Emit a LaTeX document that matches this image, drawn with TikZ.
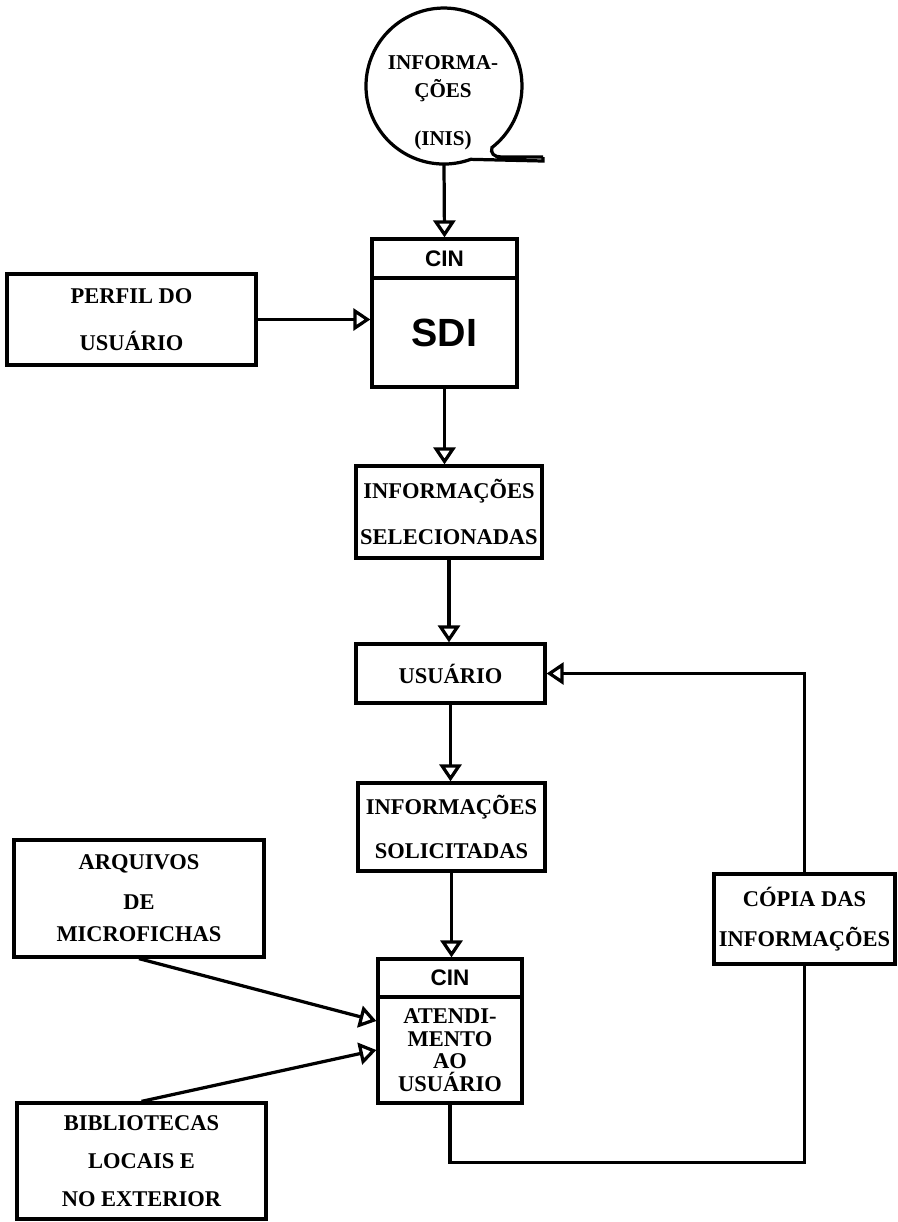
\documentclass[tikz,border=0pt]{standalone}
\usepackage{fontspec}
\setmainfont{Liberation Serif}
\newfontfamily\sansb{Liberation Sans}
\usetikzlibrary{arrows.meta}

\tikzset{
  caixa/.style={draw, line width=2.3pt, align=center, inner sep=0pt, font=\bfseries\fontsize{16}{#1}\selectfont},
  caixa/.default=33,
  cabeca/.style={draw, line width=2.3pt, inner sep=0pt, font=\sansb\bfseries\fontsize{16}{19}\selectfont},
  seta/.style={line width=2.3pt, -{Triangle[open, length=0.425cm, width=0.55cm]}},
  linha/.style={line width=2.3pt},
}

\begin{document}
\begin{tikzpicture}[x=0.025cm, y=0.025cm]
  \useasboundingbox (0,0) rectangle (897,-1222);
  \node[circle, minimum size=3.9cm, inner sep=0pt] (fita) at (444,-86) {};
  \draw[linha] (543,-157) -- (501,-157) .. controls (494,-157) and (490,-153) .. (492,-147.5)
    arc[start angle=-52, end angle=290, radius=78] -- (543,-161) -- (543,-157);
  \node[align=center, font=\bfseries\fontsize{15}{20}\selectfont] (inis) at (443,-103) {INFORMA-\\ÇÕES\\[14pt](INIS)};
  \node[cabeca, minimum width=3.625cm, minimum height=0.975cm] (cin1) at (444.5,-258.5) {CIN};
  \node[draw, line width=2.3pt, minimum width=3.625cm, minimum height=2.725cm, font=\sansb\bfseries\fontsize{28}{32}\selectfont] (sdi) at (444.5,-332.5) {SDI};
  \node[caixa, minimum width=6.225cm, minimum height=2.275cm] (perfil) at (131.5,-319.5) {PERFIL DO\\USUÁRIO};
  \node[caixa, minimum width=4.65cm, minimum height=2.3cm] (selec) at (449,-512) {INFORMAÇÕES\\SELECIONADAS};
  \node[caixa, minimum width=4.725cm, minimum height=1.475cm] (usuario) at (450.5,-673.5) {USUÁRIO};
  \node[caixa=31, minimum width=4.675cm, minimum height=2.2cm] (solic) at (451.5,-827) {INFORMAÇÕES\\SOLICITADAS};
  \node[cabeca, minimum width=3.6cm, minimum height=0.95cm] (cin2) at (450,-978) {CIN};
  \node[caixa=16, minimum width=3.6cm, minimum height=2.65cm] (atend) at (450,-1050) {ATENDI-\\MENTO\\AO\\USUÁRIO};
  \node[caixa=28, minimum width=6.25cm, minimum height=2.925cm] (arquivos) at (139,-898.5) {ARQUIVOS\\DE\\[-5pt]MICROFICHAS};
  \node[caixa=27, minimum width=6.225cm, minimum height=2.9cm] (biblio) at (141.5,-1161) {BIBLIOTECAS\\LOCAIS E\\NO EXTERIOR};
  \node[caixa=28, minimum width=4.525cm, minimum height=2.25cm] (copia) at (804.5,-919) {CÓPIA DAS\\INFORMAÇÕES};

  \draw[seta] (fita.south) -- (cin1.north);
  \draw[seta] (perfil.east) -- (perfil.east -| sdi.west);
  \draw[seta] (sdi.south) -- (sdi.south |- selec.north);
  \draw[seta] (selec.south) -- (selec.south |- usuario.north);
  \draw[seta] (usuario.south) -- (usuario.south |- solic.north);
  \draw[seta] (solic.south) -- (solic.south |- cin2.north);
  \draw[seta] (arquivos.south) -- ([yshift=0.725cm]atend.west);
  \draw[seta] (biblio.north) -- (atend.west);
  \draw[linha] (atend.south) -- ++(0,-58) -| (copia.south);
  \draw[seta] (copia.north) |- (usuario.east);
\end{tikzpicture}
\end{document}
